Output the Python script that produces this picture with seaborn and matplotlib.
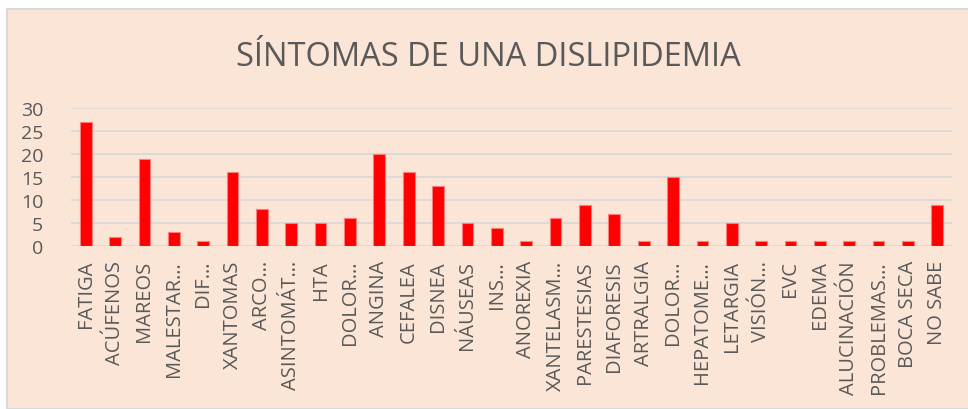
import matplotlib
matplotlib.use("Agg")
import matplotlib.pyplot as plt
import seaborn as sns
import pandas as pd
from matplotlib.patches import Rectangle

# symptom categories as shown on the axis (truncated ones keep the ellipsis)
sintomas = [
    "FATIGA", "ACÚFENOS", "MAREOS", "MALESTAR…", "DIF…", "XANTOMAS", "ARCO…",
    "ASINTOMÁT…", "HTA", "DOLOR…", "ANGINA", "CEFALEA", "DISNEA", "NÁUSEAS",
    "INS…", "ANOREXIA", "XANTELASM…", "PARESTESIAS", "DIAFORESIS", "ARTRALGIA",
    "DOLOR…", "HEPATOME…", "LETARGIA", "VISIÓN…", "EVC", "EDEMA",
    "ALUCINACIÓN", "PROBLEMAS…", "BOCA SECA", "NO SABE",
]
casos = [27, 2, 19, 3, 1, 16, 8, 5, 5, 6, 20, 16, 13, 5, 4, 1, 6, 9, 7, 1,
         15, 1, 5, 1, 1, 1, 1, 1, 1, 9]
y_ticks = [0, 5, 10, 15, 20, 25, 30]
titulo = "SÍNTOMAS DE UNA DISLIPIDEMIA"

bg = "#FBE5D6"
txt = "#595959"

sns.set_style("white")
plt.rcParams["font.family"] = ["Open Sans", "DejaVu Sans"]

fig = plt.figure(figsize=(9.68, 4.10), dpi=100, facecolor="white")

# chart area: peach panel with a light frame on top and left
fig.patches.append(Rectangle((7 / 968, 0), 1, 1 - 10 / 410, transform=fig.transFigure,
                             facecolor=bg, edgecolor="#D9D9D9", linewidth=1.5, zorder=-10))

ax = fig.add_axes([71 / 968, 1 - 247 / 410, 881 / 968, 138 / 410])
ax.set_facecolor(bg)
ax.set_zorder(5)

# use position index so the two "DOLOR…" categories stay separate
df = pd.DataFrame({"pos": range(len(casos)), "casos": casos})
sns.barplot(data=df, x="pos", y="casos", color="#FF0000", saturation=1,
            width=0.4, edgecolor="#FF7C7C", linewidth=0.8, ax=ax, zorder=3)

ax.set_ylim(0, 30)
ax.set_yticks(y_ticks)
ax.set_xlim(-0.5, len(casos) - 0.5)
ax.set_xticks(range(len(sintomas)))
ax.set_xticklabels(sintomas, rotation=90, fontsize=14.5, color=txt)
ax.tick_params(axis="x", length=0, pad=10)
ax.tick_params(axis="y", length=0, pad=20, labelsize=14, labelcolor=txt)
ax.yaxis.grid(True, color="#D9D9D9", linewidth=1.3, zorder=0)
ax.set_axisbelow(True)
ax.set_xlabel("")
ax.set_ylabel("")
sns.despine(ax=ax, left=True, bottom=True)

fig.text(0.5 + 4 / 968, 1 - 57 / 410, titulo, ha="center", va="center",
         fontsize=23.5, color=txt)

fig.savefig("out.png", dpi=100, facecolor="white")
